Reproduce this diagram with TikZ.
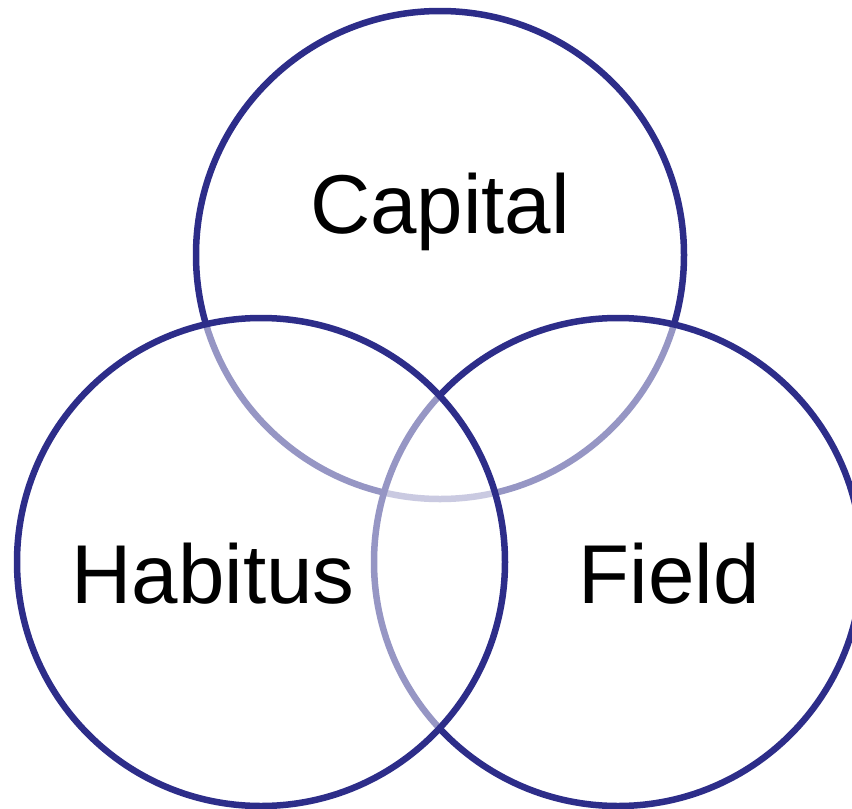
\documentclass[tikz,border=0pt]{standalone}
\usepackage{fontspec}
\setmainfont{Liberation Sans}
\definecolor{ringblue}{RGB}{45,45,137}
\begin{document}
\begin{tikzpicture}[x=1pt,y=-1pt,
  ring/.style={circle,draw=ringblue,line width=6.5pt,fill=white,fill opacity=0.5,draw opacity=1,minimum size=488pt,inner sep=0pt},
  lbl/.style={anchor=base,inner sep=0pt,font=\fontsize{83.5}{100}\selectfont}]
\useasboundingbox (0,0) rectangle (852,809);
\clip (0,0) rectangle (852,809);
\node[ring] (capital) at (440,255) {};
\node[ring] (field) at (618,562) {};
\node[ring] (habitus) at (261,562) {};
\node[lbl] (tcap) at (440,233) {Capital};
\node[lbl] (thab) at (213,603) {Habitus};
\node[lbl] (tfield) at (669,603) {Field};
\end{tikzpicture}
\end{document}
